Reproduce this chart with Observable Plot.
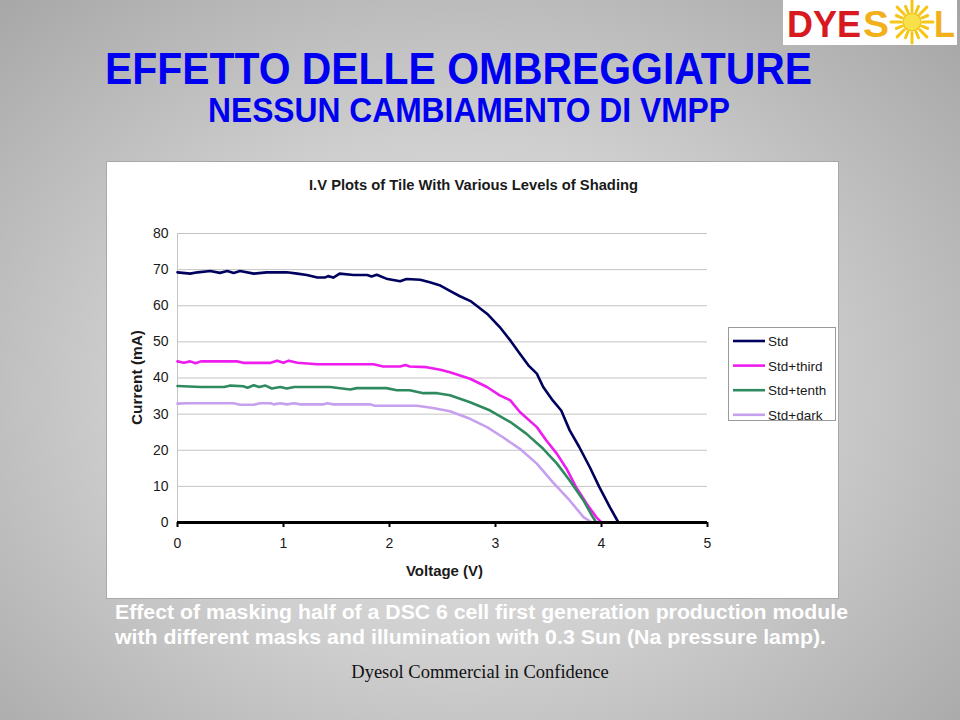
<!DOCTYPE html>
<html>
<head>
<meta charset="utf-8">
<script src="https://cdn.jsdelivr.net/npm/d3@7"></script>
<script src="https://cdn.jsdelivr.net/npm/@observablehq/plot@0.6"></script>
<style>
  html, body { margin: 0; padding: 0; }
  body {
    width: 960px; height: 720px; position: relative; overflow: hidden;
    background: radial-gradient(ellipse 75% 80% at 48% 55%, #e6e6e6 0%, #cfcfcf 45%, #a2a2a2 100%);
    font-family: "Liberation Sans", Arial, sans-serif;
  }
  #chart { position: absolute; left: 106px; top: 161px; border: 1px solid #a8a8a8; background: white; width: 731px; height: 436px; }
  #overlay { position: absolute; left: 0; top: 0; pointer-events: none; }
</style>
</head>
<body>
<div id="chart"></div>
<svg id="overlay" width="960" height="720"></svg>
<script>
// ---- data ----
const seriesNames = ["Std", "Std+third", "Std+tenth", "Std+dark"];
const seriesColors = ["#00005e", "#ee1cee", "#2f8a5f", "#c6a0ee"];

const stdV = [0,0.12,0.19,0.31,0.40,0.47,0.53,0.59,0.72,0.84,1.03,1.13,1.22,1.32,1.39,1.42,1.47,1.53,1.66,1.79,1.83,1.88,1.97,2.10,2.16,2.29,2.38,2.48,2.57,2.66,2.77,2.92,3.04,3.14,3.23,3.31,3.39,3.45,3.54,3.62,3.70,3.79,3.89,3.98,4.08,4.16];
const stdI = [69.25,68.9,69.25,69.6,69.1,69.6,69.1,69.6,68.9,69.25,69.25,68.9,68.5,67.8,67.8,68.2,67.8,68.9,68.5,68.5,68.1,68.6,67.5,66.8,67.4,67.2,66.5,65.6,64.1,62.7,61.2,57.8,54.1,50.4,46.7,43.5,41.2,37.5,33.8,31.0,25.5,20.9,15.3,9.8,4.2,0];

const thirdV = [0,0.06,0.12,0.17,0.22,0.56,0.62,0.88,0.94,1.0,1.05,1.13,1.32,1.85,1.94,2.10,2.15,2.19,2.35,2.48,2.57,2.76,2.92,3.04,3.14,3.23,3.39,3.48,3.58,3.67,3.76,3.86,3.95,4.0];
const thirdI = [44.6,44.2,44.6,44.1,44.6,44.6,44.2,44.2,44.8,44.2,44.8,44.2,43.8,43.8,43.2,43.2,43.6,43.2,43.0,42.3,41.6,39.8,37.5,35.2,33.8,30.6,26.4,22.7,19.0,14.9,9.8,5.2,1.5,0];

const tenthV = [0,0.22,0.44,0.50,0.62,0.66,0.72,0.77,0.83,0.89,0.97,1.03,1.10,1.44,1.63,1.69,1.97,2.07,2.19,2.32,2.45,2.57,2.76,2.95,3.14,3.29,3.45,3.58,3.70,3.83,3.91,3.95];
const tenthI = [37.8,37.5,37.5,37.9,37.7,37.3,38.0,37.5,37.9,37.1,37.5,37.1,37.5,37.5,36.8,37.2,37.2,36.6,36.6,35.8,35.8,35.2,33.3,31.0,27.8,24.6,20.4,16.3,11.6,6.1,1.9,0];

const darkV = [0,0.09,0.53,0.59,0.72,0.78,0.88,0.91,0.97,1.03,1.10,1.16,1.38,1.41,1.47,1.82,1.86,2.26,2.41,2.57,2.76,2.92,3.07,3.23,3.39,3.54,3.70,3.83,3.91];
const darkI = [32.9,33.0,33.0,32.6,32.6,33.0,33.0,32.7,33.0,32.7,33.0,32.7,32.7,33.0,32.7,32.7,32.3,32.3,31.7,30.8,28.7,26.4,23.6,20.4,16.3,11.2,6.1,1.5,0];

const xTicks = [0, 1, 2, 3, 4, 5];
const yTicks = [0, 10, 20, 30, 40, 50, 60, 70, 80];

const chartTitle = "I.V Plots of Tile With Various Levels of Shading";
const xLabel = "Voltage (V)";
const yLabel = "Current (mA)";
const slideTitle = "EFFETTO DELLE OMBREGGIATURE";
const slideSubtitle = "NESSUN CAMBIAMENTO DI VMPP";
const captionLines = [
  "Effect of masking half of a DSC 6 cell first generation production module",
  "with different masks and illumination with 0.3 Sun (Na pressure lamp)."
];
const footer = "Dyesol Commercial in Confidence";

// ---- build table ----
const seriesData = [[stdV, stdI], [thirdV, thirdI], [tenthV, tenthI], [darkV, darkI]];
const rows = [];
seriesData.forEach(([vs, is], k) => vs.forEach((v, j) => rows.push({series: seriesNames[k], v, i: is[j]})));

const plot = Plot.plot({
  width: 731, height: 436,
  marginLeft: 70, marginRight: 131, marginTop: 71, marginBottom: 76,
  style: {background: "white", fontFamily: "'Liberation Sans', Arial, sans-serif", fontSize: "14px", color: "#1a1a1a", overflow: "visible"},
  x: {domain: [0, 5]},
  y: {domain: [0, 80]},
  color: {domain: seriesNames, range: seriesColors},
  marks: [
    Plot.gridY(yTicks.filter(d => d > 0), {stroke: "#c4c4c4", strokeOpacity: 1, strokeWidth: 1}),
    Plot.ruleX([0], {stroke: "#c4c4c4", strokeWidth: 1}),
    Plot.axisY(yTicks, {tickSize: 0, tickPadding: 9, label: null, fill: "#1a1a1a"}),
    Plot.axisX(xTicks, {tickSize: 5, tickPadding: 11, label: null, stroke: "#000", strokeWidth: 2, fill: "#1a1a1a"}),
    Plot.line(rows, {x: "v", y: "i", z: "series", stroke: "series", strokeWidth: 2.6, strokeLinejoin: "round"}),
    Plot.ruleY([0], {stroke: "#000", strokeWidth: 3})
  ]
});
document.getElementById("chart").appendChild(plot);

// ---- overlay text, legend, logo ----
const svg = d3.select("#overlay");
const sans = "'Liberation Sans', Arial, sans-serif";

// slide titles
svg.append("text").attr("x", 105).attr("y", 84).attr("textLength", 707).attr("lengthAdjust", "spacingAndGlyphs")
  .attr("font-family", sans).attr("font-weight", "bold").attr("font-size", 44).attr("fill", "#0000f0").text(slideTitle);
svg.append("text").attr("x", 208).attr("y", 122).attr("textLength", 522).attr("lengthAdjust", "spacingAndGlyphs")
  .attr("font-family", sans).attr("font-weight", "bold").attr("font-size", 35).attr("fill", "#0000f0").text(slideSubtitle);

// chart title and axis titles
svg.append("text").attr("x", 309).attr("y", 190).attr("textLength", 329).attr("lengthAdjust", "spacingAndGlyphs")
  .attr("font-family", sans).attr("font-weight", "bold").attr("font-size", 14).attr("fill", "#1a1a1a").text(chartTitle);
svg.append("text").attr("x", 406).attr("y", 576).attr("textLength", 77).attr("lengthAdjust", "spacingAndGlyphs")
  .attr("font-family", sans).attr("font-weight", "bold").attr("font-size", 14).attr("fill", "#1a1a1a").text(xLabel);
svg.append("text").attr("transform", "translate(142,425) rotate(-90)").attr("textLength", 95).attr("lengthAdjust", "spacingAndGlyphs")
  .attr("font-family", sans).attr("font-weight", "bold").attr("font-size", 14).attr("fill", "#1a1a1a").text(yLabel);

// legend
svg.append("rect").attr("x", 728.5).attr("y", 327.5).attr("width", 107).attr("height", 93)
  .attr("fill", "white").attr("stroke", "#9a9a9a").attr("stroke-width", 1);
seriesNames.forEach((name, k) => {
  const cy = 341 + k * 24.6;
  svg.append("line").attr("x1", 733).attr("x2", 765).attr("y1", cy).attr("y2", cy)
    .attr("stroke", seriesColors[k]).attr("stroke-width", 2.6);
  svg.append("text").attr("x", 768).attr("y", cy + 5).attr("font-family", sans).attr("font-size", 13.5)
    .attr("fill", "#1a1a1a").text(name);
});

// caption
captionLines.forEach((t, k) => {
  svg.append("text").attr("x", 115).attr("y", 619 + k * 25).attr("textLength", k === 0 ? 733 : 711)
    .attr("lengthAdjust", "spacingAndGlyphs").attr("font-family", sans).attr("font-weight", "bold")
    .attr("font-size", 19.5).attr("fill", "white").text(t);
});
svg.append("text").attr("x", 480).attr("y", 678).attr("text-anchor", "middle")
  .attr("font-family", "'Liberation Serif', 'Times New Roman', serif").attr("font-size", 18.5)
  .attr("fill", "#111").text(footer);

// logo
const logo = svg.append("g");
logo.append("rect").attr("x", 783).attr("y", 0).attr("width", 174).attr("height", 45).attr("fill", "white");
logo.append("text").attr("x", 787).attr("y", 37).attr("textLength", 74).attr("lengthAdjust", "spacingAndGlyphs")
  .attr("font-family", sans).attr("font-weight", "bold").attr("font-size", 36).attr("fill", "#d61a1f").text("DYE");
logo.append("text").attr("x", 863).attr("y", 37).attr("textLength", 26).attr("lengthAdjust", "spacingAndGlyphs")
  .attr("font-family", sans).attr("font-weight", "bold").attr("font-size", 36).attr("fill", "#f2b01c").text("S");
const sun = logo.append("g").attr("transform", "translate(912,22)");
for (let a = 0; a < 16; a++) {
  const ang = a * Math.PI / 8;
  const r1 = 11, r2 = a % 2 ? 17 : 21;
  sun.append("line").attr("x1", r1 * Math.cos(ang)).attr("y1", r1 * Math.sin(ang))
    .attr("x2", r2 * Math.cos(ang)).attr("y2", r2 * Math.sin(ang))
    .attr("stroke", "#f5c518").attr("stroke-width", 3).attr("stroke-linecap", "round");
}
sun.append("circle").attr("r", 9).attr("fill", "#f7e04a").attr("stroke", "#f5c518").attr("stroke-width", 1.5);
logo.append("text").attr("x", 934).attr("y", 37).attr("textLength", 21).attr("lengthAdjust", "spacingAndGlyphs")
  .attr("font-family", sans).attr("font-weight", "bold").attr("font-size", 36).attr("fill", "#f2b01c").text("L");
</script>
</body>
</html>
